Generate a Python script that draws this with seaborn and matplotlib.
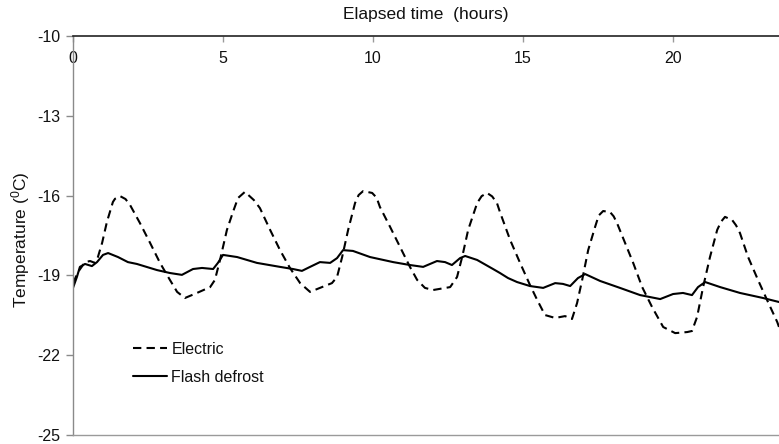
import matplotlib
matplotlib.use("Agg")
import matplotlib.pyplot as plt
import seaborn as sns
import pandas as pd

# ---- data ----
electric_hours = [0.00, 0.17, 0.40, 0.57, 0.73, 0.83, 0.97, 1.13, 1.33, 1.40, 1.57, 1.75, 1.90, 2.23,
                  2.57, 2.90, 3.23, 3.47, 3.73, 4.13, 4.57, 4.73, 4.90, 5.13, 5.33, 5.50, 5.73, 6.03,
                  6.23, 6.57, 6.90, 7.23, 7.57, 7.90, 8.23, 8.63, 8.80, 8.97, 9.17, 9.40, 9.52, 9.67,
                  9.97, 10.12, 10.23, 10.57, 10.90, 11.23, 11.47, 11.73, 12.00, 12.57, 12.80, 12.97,
                  13.17, 13.47, 13.62, 13.80, 13.97, 14.13, 14.23, 14.57, 14.90, 15.23, 15.47, 15.73,
                  16.07, 16.40, 16.63, 16.80, 16.97, 17.17, 17.40, 17.52, 17.67, 17.90, 18.02, 18.13,
                  18.40, 18.67, 18.97, 19.30, 19.67, 20.07, 20.47, 20.63, 20.80, 21.00, 21.23, 21.47,
                  21.60, 21.73, 21.97, 22.10, 22.23, 22.50, 22.83, 23.13, 23.47, 23.53]
electric_temp = [-19.29, -18.87, -18.50, -18.46, -18.53, -18.31, -17.78, -16.99, -16.24, -16.12, -16.02,
                 -16.13, -16.35, -17.03, -17.78, -18.53, -19.17, -19.62, -19.85, -19.66, -19.44, -19.17,
                 -18.42, -17.29, -16.62, -16.09, -15.86, -16.17, -16.47, -17.29, -18.05, -18.72, -19.29,
                 -19.62, -19.47, -19.29, -19.06, -18.31, -17.29, -16.28, -15.98, -15.83, -15.90, -16.08,
                 -16.43, -17.18, -17.93, -18.68, -19.17, -19.47, -19.55, -19.44, -19.06, -18.31, -17.29,
                 -16.28, -16.02, -15.90, -16.03, -16.28, -16.62, -17.67, -18.53, -19.36, -19.92, -20.49,
                 -20.60, -20.53, -20.64, -20.04, -19.17, -18.05, -17.18, -16.75, -16.58, -16.62, -16.78,
                 -17.03, -17.78, -18.53, -19.44, -20.19, -20.94, -21.17, -21.13, -21.09, -20.56, -19.44,
                 -18.31, -17.29, -16.98, -16.80, -16.92, -17.12, -17.41, -18.31, -19.17, -19.92, -20.75,
                 -20.94]

flash_hours = [0.00, 0.13, 0.23, 0.40, 0.63, 0.80, 1.00, 1.17, 1.50, 1.83, 2.13, 2.80, 3.23, 3.63,
               4.00, 4.30, 4.67, 4.83, 5.00, 5.47, 6.13, 6.90, 7.33, 7.63, 7.90, 8.23, 8.57, 8.80,
               9.00, 9.33, 9.90, 10.67, 11.23, 11.67, 12.13, 12.40, 12.63, 12.90, 13.07, 13.47,
               14.00, 14.23, 14.50, 14.80, 15.23, 15.67, 16.07, 16.33, 16.57, 16.83, 17.07, 17.57,
               18.23, 18.90, 19.57, 20.00, 20.33, 20.63, 20.83, 21.07, 21.57, 22.23, 23.00, 23.53]
flash_temp = [-19.47, -19.06, -18.68, -18.57, -18.65, -18.50, -18.23, -18.16, -18.31, -18.50, -18.57,
              -18.80, -18.91, -18.98, -18.76, -18.72, -18.76, -18.53, -18.23, -18.31, -18.53, -18.68,
              -18.76, -18.83, -18.68, -18.50, -18.53, -18.35, -18.05, -18.08, -18.31, -18.50, -18.61,
              -18.68, -18.46, -18.50, -18.61, -18.35, -18.27, -18.42, -18.76, -18.91, -19.10, -19.25,
              -19.40, -19.47, -19.29, -19.32, -19.40, -19.10, -18.95, -19.21, -19.47, -19.74, -19.89,
              -19.70, -19.66, -19.74, -19.44, -19.25, -19.44, -19.66, -19.85, -20.00]

series_names = ["Electric", "Flash defrost"]
x_ticks = [0, 5, 10, 15, 20]
y_ticks = [-25, -22, -19, -16, -13, -10]

df = pd.concat([
    pd.DataFrame({"hours": electric_hours, "temp": electric_temp, "series": series_names[0]}),
    pd.DataFrame({"hours": flash_hours, "temp": flash_temp, "series": series_names[1]}),
], ignore_index=True)

sns.set_theme(style="white")
plt.rcParams["font.family"] = ["Liberation Sans", "DejaVu Sans"]
plt.rcParams["mathtext.fontset"] = "custom"
plt.rcParams["mathtext.rm"] = "Liberation Sans"
plt.rcParams["lines.solid_joinstyle"] = "round"
plt.rcParams["lines.dash_joinstyle"] = "round"

fig = plt.figure(figsize=(7.79, 4.44), dpi=100)
ax = fig.add_axes([73 / 779, 1 - 435 / 444, 1 - 73 / 779, (435 - 36) / 444])

sns.lineplot(data=df, x="hours", y="temp", hue="series", style="series",
             palette={"Electric": "black", "Flash defrost": "black"},
             dashes={"Electric": (4, 2.5), "Flash defrost": ""},
             estimator=None, sort=False, linewidth=1.5, ax=ax)

ax.set_xlim(0, 23.53)
ax.set_ylim(-25, -10)
ax.set_xticks(x_ticks)
ax.set_yticks(y_ticks)
ax.set_yticklabels([str(v) for v in y_ticks])

# x axis on top, labels inside the plot
ax.xaxis.set_ticks_position("top")
ax.xaxis.set_label_position("top")
ax.tick_params(axis="x", which="major", top=True, bottom=False, labeltop=True, labelbottom=False,
               direction="in", length=4, width=1, color="#9a9a9a", pad=-21.5, labelsize=11.5,
               labelcolor="#111111")
ax.tick_params(axis="y", which="major", left=True, direction="out", length=5, width=1,
               color="#8a8a8a", pad=4, labelsize=11.5, labelcolor="#111111")

ax.set_xlabel("Elapsed time  (hours)", fontsize=12.5, color="#111111")
ax.xaxis.set_label_coords(0.5, 1.043)
ax.set_ylabel(r"Temperature ($\mathregular{^{0}}$C)", fontsize=12.5, color="#111111")
ax.yaxis.set_label_coords(-0.058, 0.49)

ax.spines["right"].set_visible(False)
ax.spines["top"].set_color("#222222")
ax.spines["top"].set_linewidth(1.2)
ax.spines["left"].set_color("#8a8a8a")
ax.spines["left"].set_linewidth(1.0)
ax.spines["bottom"].set_color("#9a9a9a")
ax.spines["bottom"].set_linewidth(1.0)

leg = ax.legend(title=None, loc="upper left", bbox_to_anchor=(0.085, 0.233), frameon=False,
                borderpad=0, borderaxespad=0, handlelength=2.1, handletextpad=0.3,
                labelspacing=0.8, fontsize=11.5)
for t in leg.get_texts():
    t.set_color("#111111")

fig.savefig("out.png", dpi=100)
